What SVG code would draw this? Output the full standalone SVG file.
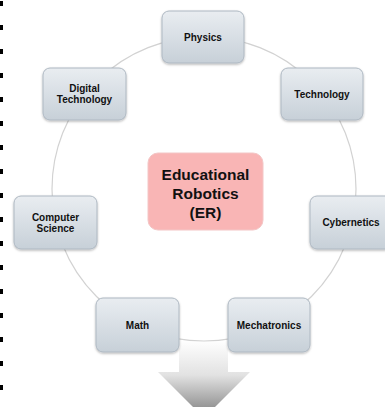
<svg xmlns="http://www.w3.org/2000/svg" width="385" height="407" viewBox="0 0 385 407">
<style>
.node rect{fill:url(#ng);stroke:#aeb8c2;stroke-width:1;filter:url(#sh)}
.node text{font-family:"Liberation Sans",Arial,sans-serif;font-weight:bold;font-size:10px;fill:#111;text-anchor:middle}
.center text{font-family:"Liberation Sans",Arial,sans-serif;font-weight:bold;font-size:15.5px;fill:#111;text-anchor:middle}
.dash{fill:#000}
</style>
<defs>
<linearGradient id="ng" x1="0" y1="0" x2="0" y2="1">
<stop offset="0" stop-color="#e9edf1"/>
<stop offset="1" stop-color="#c7d0d8"/>
</linearGradient>
<linearGradient id="ag" x1="0" y1="340" x2="0" y2="418" gradientUnits="userSpaceOnUse">
<stop offset="0" stop-color="#ffffff"/>
<stop offset="0.45" stop-color="#e2e2e2"/>
<stop offset="1" stop-color="#7c7c7c"/>
</linearGradient>
<filter id="sh" x="-10%" y="-10%" width="120%" height="130%">
<feDropShadow dx="0" dy="1.2" stdDeviation="1" flood-color="#000" flood-opacity="0.28"/>
</filter>
</defs>
<g id="dashes">
<rect class="dash" x="0" y="1" width="3" height="5"/>
<rect class="dash" x="0" y="25" width="3" height="5"/>
<rect class="dash" x="0" y="49" width="3" height="5"/>
<rect class="dash" x="0" y="73" width="3" height="5"/>
<rect class="dash" x="0" y="97" width="3" height="5"/>
<rect class="dash" x="0" y="121" width="3" height="5"/>
<rect class="dash" x="0" y="145" width="3" height="5"/>
<rect class="dash" x="0" y="169" width="3" height="5"/>
<rect class="dash" x="0" y="193" width="3" height="5"/>
<rect class="dash" x="0" y="217" width="3" height="5"/>
<rect class="dash" x="0" y="241" width="3" height="5"/>
<rect class="dash" x="0" y="265" width="3" height="5"/>
<rect class="dash" x="0" y="289" width="3" height="5"/>
<rect class="dash" x="0" y="313" width="3" height="5"/>
<rect class="dash" x="0" y="337" width="3" height="5"/>
<rect class="dash" x="0" y="361" width="3" height="5"/>
<rect class="dash" x="0" y="385" width="3" height="5"/>
</g>
<g id="arrow">
<polygon points="179,335 228,335 228,372 250,372 204,418 158,372 179,372" fill="url(#ag)"/>
</g>
<g id="connectors">
<circle cx="204" cy="189" r="152" fill="none" stroke="#d2d2d2" stroke-width="1.2"/>
</g>
<g id="er" class="center">
<rect x="148" y="153" width="115" height="77" rx="10" fill="#f9b5b5" stroke="#f3c6c6" stroke-width="1"/>
<text x="205.5" y="180">Educational</text>
<text x="205.5" y="199">Robotics</text>
<text x="205.5" y="218">(ER)</text>
</g>
<g id="physics" class="node">
<rect x="162" y="11" width="82" height="52" rx="7"/>
<text x="203" y="40.5">Physics</text>
</g>
<g id="technology" class="node">
<rect x="281" y="68" width="82" height="52" rx="7"/>
<text x="322" y="97.5">Technology</text>
</g>
<g id="digital-technology" class="node">
<rect x="43" y="68" width="83" height="52" rx="7"/>
<text x="84.5" y="92">Digital</text>
<text x="84.5" y="103">Technology</text>
</g>
<g id="computer-science" class="node">
<rect x="14" y="196" width="83" height="53" rx="7"/>
<text x="55.5" y="220.5">Computer</text>
<text x="55.5" y="231.5">Science</text>
</g>
<g id="cybernetics" class="node">
<rect x="310" y="196" width="82" height="53" rx="7"/>
<text x="351" y="226">Cybernetics</text>
</g>
<g id="math" class="node">
<rect x="96" y="298" width="83" height="54" rx="7"/>
<text x="137.5" y="328.5">Math</text>
</g>
<g id="mechatronics" class="node">
<rect x="228" y="298" width="82" height="54" rx="7"/>
<text x="269" y="328.5">Mechatronics</text>
</g>
</svg>
